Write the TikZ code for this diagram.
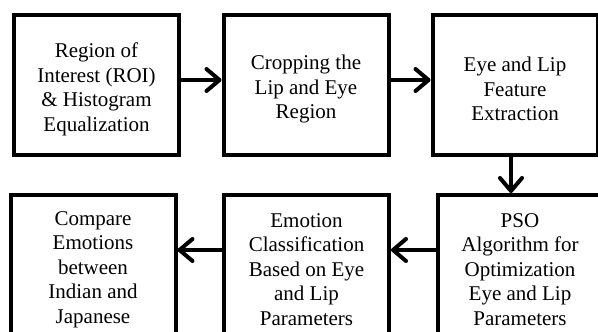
\documentclass[tikz,border=0pt]{standalone}
\usepackage{fontspec}
\setmainfont{Liberation Serif}
\usetikzlibrary{arrows.meta}
\newcommand{\tp}{\rule{0pt}{23pt}}
\begin{document}
\begin{tikzpicture}[x=1pt,y=-1pt,
  stepbox/.style={draw, line width=4pt, minimum width=165pt, minimum height=140pt,
    inner sep=0pt, align=center, font=\fontsize{21pt}{24.5pt}\selectfont},
  arr/.style={line width=4pt, -{Straight Barb[length=13pt,width=22pt,line join=round,line cap=round]}}]
\useasboundingbox (0,0) rectangle (598,332);
\clip (0,0) rectangle (598,332);
\node[stepbox] (b1) at (96.5,85) {\tp Region of\\Interest (ROI)\\\& Histogram\\Equalization};
\node[stepbox] (b2) at (306,85) {\tp Cropping the\\Lip and Eye\\Region};
\node[stepbox] (b3) at (515,85) {\tp Eye and Lip\\Feature\\Extraction};
\node[stepbox] (bc) at (520,265) {\tp PSO\\Algorithm for\\Optimization\\Eye and Lip\\Parameters};
\node[stepbox] (bb) at (306.5,265) {\tp Emotion\\Classification\\Based on Eye\\and Lip\\Parameters};
\node[stepbox] (ba) at (93,265) {\tp Compare\\Emotions\\between\\Indian and\\Japanese};
\draw[arr] ([yshift=5pt]b1.east) -- ([yshift=5pt]b2.west);
\draw[arr] ([yshift=5pt]b2.east) -- ([yshift=5pt]b3.west);
\draw[arr] ([xshift=-4pt]b3.south) -- ([xshift=-4pt]b3.south |- bc.north);
\draw[arr] ([yshift=15pt]bc.west) -- ([yshift=15pt]bb.east);
\draw[arr] ([yshift=15pt]bb.west) -- ([yshift=15pt]ba.east);
\end{tikzpicture}
\end{document}
